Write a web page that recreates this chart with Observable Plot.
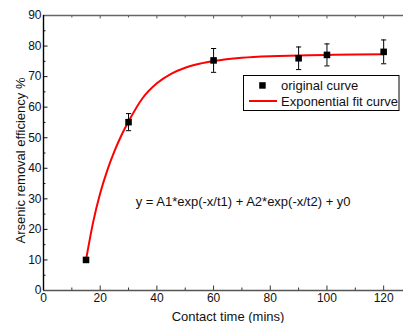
<!DOCTYPE html>
<html><head><meta charset="utf-8">
<script src="https://cdn.jsdelivr.net/npm/d3@7"></script>
<script src="https://cdn.jsdelivr.net/npm/@observablehq/plot@0.6"></script>
<style>
body{margin:0;background:#fff;}
#chart{position:relative;width:403px;height:323px;}
#chart svg{font-family:"Liberation Sans",Arial,sans-serif;}
</style></head><body><div id="chart"></div>
<script>
// measured data (Contact time in mins, Arsenic removal %)
const timeX = [15, 30, 60, 90, 100, 120];
const removal = [10.0, 55.1, 75.3, 76.0, 77.1, 78.1];
const errors = [0, 2.8, 3.9, 3.7, 3.6, 3.9];
// exponential fit curve
const fitX = [15, 17.5, 20, 22.5, 25, 27.5, 30, 35, 40, 45, 50, 55, 60, 70, 80, 90, 100, 110, 120];
const fitY = [10, 22.3, 31.8, 39.3, 45.5, 50.8, 55.3, 63.0, 67.8, 70.9, 72.9, 74.2, 75.1, 76.2, 76.7, 76.9, 77.1, 77.2, 77.3];
// ticks
const xMajor = [0, 20, 40, 60, 80, 100, 120];
const xMinor = [10, 30, 50, 70, 90, 110];
const yMajor = [0, 10, 20, 30, 40, 50, 60, 70, 80, 90];
const yMinor = [5, 15, 25, 35, 45, 55, 65, 75, 85];
// texts
const xLabel = "Contact time (mins)";
const yLabel = "Arsenic removal efficiency %";
const equation = "y = A1*exp(-x/t1) + A2*exp(-x/t2) + y0";
const legendLabels = ["original curve", "Exponential fit curve"];

const W = 403, H = 323, mL = 43, mR = 0, mT = 15, mB = 33;
const plotW = W - mL - mR, plotH = H - mT - mB;

const points = timeX.map((x, i) => ({x, y: removal[i], e: errors[i]}));
const bars = points.filter(d => d.e > 0);
const fit = fitX.map((x, i) => ({x, y: fitY[i]}));
const cap = {draw(ctx) { ctx.moveTo(-2.6, 0); ctx.lineTo(2.6, 0); }};

const chart = Plot.plot({
  width: W, height: H,
  marginLeft: mL, marginRight: mR, marginTop: mT, marginBottom: mB,
  style: {fontSize: "12px", fontFamily: "Liberation Sans, Arial, sans-serif", color: "#111", background: "#fff"},
  x: {domain: [0, 127]},
  y: {domain: [0, 90]},
  marks: [
    Plot.axisX({ticks: xMajor, tickSize: 0, tickPadding: 3, label: null, fill: "#111"}),
    Plot.axisY({ticks: yMajor, tickSize: 0, tickPadding: 2, label: null, fill: "#111"}),
    // inward ticks
    Plot.tickX(xMajor, {x: d => d, insetTop: plotH - 4.5, stroke: "#333"}),
    Plot.tickX(xMinor, {x: d => d, insetTop: plotH - 2.5, stroke: "#333"}),
    Plot.tickX(xMajor, {x: d => d, insetBottom: plotH - 3.5, stroke: "#555"}),
    Plot.tickX(xMinor, {x: d => d, insetBottom: plotH - 2.5, stroke: "#555"}),
    Plot.tickY(yMajor, {y: d => d, insetRight: plotW - 4.5, stroke: "#111"}),
    Plot.tickY(yMinor, {y: d => d, insetRight: plotW - 2.5, stroke: "#111"}),
    // frame lines
    Plot.ruleY([90], {stroke: "#666", strokeWidth: 1.3}),
    Plot.ruleY([0], {stroke: "#555", strokeWidth: 1.3}),
    Plot.ruleX([0], {stroke: "#000", strokeWidth: 1.4}),
    // fit curve
    Plot.line(fit, {x: "x", y: "y", stroke: "#ff0000", strokeWidth: 2, curve: "monotone-x"}),
    // error bars
    Plot.ruleX(bars, {x: "x", y1: d => d.y - d.e, y2: d => d.y + d.e, stroke: "#000", strokeWidth: 1}),
    Plot.dot(bars, {x: "x", y: d => d.y + d.e, symbol: cap, stroke: "#000", fill: "none", strokeWidth: 1}),
    Plot.dot(bars, {x: "x", y: d => d.y - d.e, symbol: cap, stroke: "#000", fill: "none", strokeWidth: 1}),
    // markers
    Plot.dot(points, {x: "x", y: "y", symbol: "square", r: 3.7, fill: "#000", stroke: "none"}),
    // equation
    Plot.text([equation], {x: 32.5, y: 29, textAnchor: "start", fontSize: 13, fill: "#111"}),
    // axis titles
    Plot.text([xLabel], {frameAnchor: "bottom", textAnchor: "middle", lineAnchor: "middle", dx: 4.5, dy: 26.5, fontSize: 13, fill: "#111"}),
    Plot.text([yLabel], {frameAnchor: "left", textAnchor: "middle", lineAnchor: "middle", rotate: -90, dx: -23, dy: 7.5, fontSize: 13, fill: "#111"})
  ]
});
document.getElementById("chart").appendChild(chart);

// legend box
const svg = d3.select(chart);
const lg = svg.append("g").attr("font-family", "Liberation Sans, Arial, sans-serif")
  .attr("font-size", 13).attr("text-anchor", "start");
lg.append("rect").attr("x", 243.5).attr("y", 75.5).attr("width", 155.5).attr("height", 35)
  .attr("fill", "#fff").attr("stroke", "#000").attr("stroke-width", 1);
lg.append("rect").attr("x", 259.2).attr("y", 82.2).attr("width", 6.5).attr("height", 6.5).attr("fill", "#000");
lg.append("line").attr("x1", 249).attr("x2", 277).attr("y1", 101).attr("y2", 101)
  .attr("stroke", "#ff0000").attr("stroke-width", 2);
lg.selectAll("text.l").data(legendLabels).join("text")
  .attr("class", "l").attr("text-anchor", "start")
  .attr("x", 281).attr("y", (d, i) => i === 0 ? 85.5 : 101)
  .attr("dy", "0.35em").attr("fill", "#111").text(d => d);
</script></body></html>
